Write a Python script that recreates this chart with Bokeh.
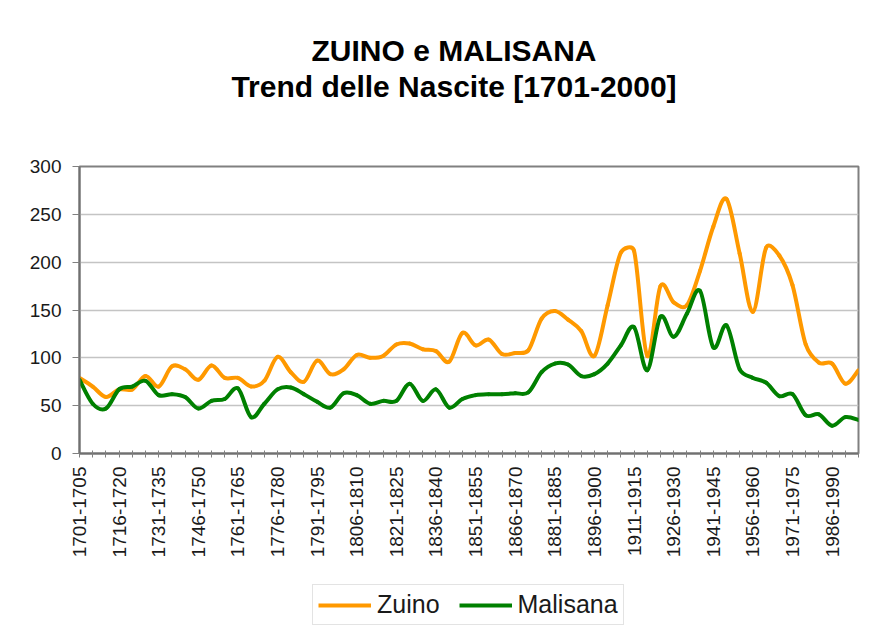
import math
from bokeh.plotting import figure
from bokeh.layouts import column
from bokeh.models import (Range1d, FixedTicker, Label, Legend, LegendItem, ColumnDataSource)
from bokeh.embed import file_html
from bokeh.resources import INLINE

# ---------------- data ----------------
categories = [
    "1701-1705", "1706-1710", "1711-1715", "1716-1720", "1721-1725", "1726-1730",
    "1731-1735", "1736-1740", "1741-1745", "1746-1750", "1751-1755", "1756-1760",
    "1761-1765", "1766-1770", "1771-1775", "1776-1780", "1781-1785", "1786-1790",
    "1791-1795", "1796-1800", "1801-1805", "1806-1810", "1811-1815", "1816-1820",
    "1821-1825", "1826-1830", "1831-1835", "1836-1840", "1841-1845", "1846-1850",
    "1851-1855", "1856-1860", "1861-1865", "1866-1870", "1871-1875", "1876-1880",
    "1881-1885", "1886-1890", "1891-1895", "1896-1900", "1901-1905", "1906-1910",
    "1911-1915", "1916-1920", "1921-1925", "1926-1930", "1931-1935", "1936-1940",
    "1941-1945", "1946-1950", "1951-1955", "1956-1960", "1961-1965", "1966-1970",
    "1971-1975", "1976-1980", "1981-1985", "1986-1990", "1991-1995", "1996-2000",
]

zuino = [79, 70, 59, 67, 67, 81, 70, 91, 88, 77,
         92, 79, 79, 70, 76, 101, 85, 75, 97, 83,
         88, 103, 100, 102, 114, 115, 109, 107, 96, 126,
         113, 119, 104, 105, 108, 141, 149, 140, 128, 102,
         155, 210, 212, 102, 175, 158, 155, 191, 237, 266,
         209, 148, 215, 207, 176, 114, 95, 94, 73, 87]

malisana = [77, 52, 47, 67, 70, 76, 61, 62, 59, 47,
            55, 57, 68, 38, 52, 67, 69, 62, 54, 48,
            63, 61, 52, 55, 55, 73, 55, 67, 48, 57,
            61, 62, 62, 63, 64, 85, 94, 93, 81, 83,
            94, 113, 132, 87, 143, 122, 146, 170, 111, 134,
            88, 79, 74, 60, 62, 40, 41, 29, 38, 35]

y_ticks = [0, 50, 100, 150, 200, 250, 300]
label_every = 3

series_names = ["Zuino", "Malisana"]
series_colors = ["#FF9900", "#008000"]
title_lines = ["ZUINO e MALISANA", "Trend delle Nascite [1701-2000]"]

FONT = "Liberation Sans"
W = 872
H_TITLE, H_MAIN, H_LEG = 140, 435, 53
FRAME_L, FRAME_R, FRAME_T, FRAME_B = 79, 14, 26, 122
Y_MAX = 300


def smooth_segments(vals, sx, sy, cap=0.45):
    """Bezier segments through the data points (Catmull-Rom style smoothing,
    handles limited relative to the segment's chord in screen space)."""
    n = len(vals)
    xs = list(range(n))
    P = [(xs[i] * sx, vals[i] * sy) for i in range(n)]

    def handle(i, j):
        # tangent handle at point i pointing towards neighbour j
        a = P[max(i - 1, 0)]
        b = P[min(i + 1, n - 1)]
        hx, hy = (b[0] - a[0]) / 6.0, (b[1] - a[1]) / 6.0
        L = math.hypot(hx, hy)
        ch = math.hypot(P[j][0] - P[i][0], P[j][1] - P[i][1])
        lim = cap * ch
        if L > lim and L > 0:
            hx, hy = hx * lim / L, hy * lim / L
        return hx, hy

    d = dict(x0=[], y0=[], x1=[], y1=[], cx0=[], cy0=[], cx1=[], cy1=[])
    for i in range(n - 1):
        h0x, h0y = handle(i, i + 1)
        h1x, h1y = handle(i + 1, i)
        d["x0"].append(xs[i]); d["y0"].append(vals[i])
        d["x1"].append(xs[i + 1]); d["y1"].append(vals[i + 1])
        d["cx0"].append((P[i][0] + h0x) / sx)
        d["cy0"].append((P[i][1] + h0y) / sy)
        d["cx1"].append((P[i + 1][0] - h1x) / sx)
        d["cy1"].append((P[i + 1][1] - h1y) / sy)
    return ColumnDataSource(d)


def blank_figure(height):
    f = figure(width=W, height=height, output_backend="svg", toolbar_location=None,
               title_location=None, x_axis_type=None, y_axis_type=None,
               x_range=Range1d(0, 1), y_range=Range1d(0, 1), min_border=0)
    f.outline_line_color = None
    f.background_fill_color = "white"
    f.border_fill_color = "white"
    return f


# ---------------- title block ----------------
pt = blank_figure(H_TITLE)
for txt, baseline in zip(title_lines, [62, 98]):
    pt.add_layout(Label(x=453.5 - FRAME_L, y=H_TITLE - baseline + 12,
                        x_units="screen", y_units="screen",
                        text=txt, text_align="center", text_baseline="alphabetic",
                        text_font=FONT, text_font_size="30px", text_font_style="bold",
                        text_color="black"))

# ---------------- main chart ----------------
p = figure(width=W, height=H_MAIN, output_backend="svg", toolbar_location=None,
           title_location=None,
           x_range=Range1d(0, len(categories) - 1), y_range=Range1d(0, Y_MAX),
           min_border_left=FRAME_L, min_border_right=FRAME_R, min_border_top=FRAME_T,
           min_border_bottom=FRAME_B)

p.background_fill_color = "white"
p.border_fill_color = "white"
p.outline_line_color = "#808080"
p.outline_line_width = 2

xa = p.xaxis[0]
xa.ticker = FixedTicker(ticks=list(range(len(categories))))
xa.major_label_overrides = {i: (categories[i] if i % label_every == 0 else "")
                            for i in range(len(categories))}
xa.major_label_orientation = math.pi / 2
xa.major_label_text_font = FONT
xa.major_label_text_font_size = "19px"
xa.major_label_text_color = "#1a1a1a"
xa.major_label_standoff = 9
xa.major_tick_in = 3
xa.major_tick_out = 4
xa.major_tick_line_color = "#808080"
xa.minor_tick_line_color = None
xa.axis_line_color = "#707070"
xa.axis_line_width = 2

ya = p.yaxis[0]
ya.ticker = FixedTicker(ticks=y_ticks)
ya.major_label_text_font = FONT
ya.major_label_text_font_size = "19px"
ya.major_label_text_color = "#1a1a1a"
ya.major_label_standoff = 11
ya.major_tick_in = 0
ya.major_tick_out = 7
ya.major_tick_line_color = "#808080"
ya.minor_tick_line_color = None
ya.axis_line_color = "#707070"
ya.axis_line_width = 2

p.xgrid.grid_line_color = None
p.ygrid.ticker = FixedTicker(ticks=y_ticks)
p.ygrid.grid_line_color = "#c4c4c4"
p.ygrid.grid_line_width = 1.5

# pixel scale of the frame (for screen-space smoothing)
frame_w = W - FRAME_L - FRAME_R
frame_h = H_MAIN - FRAME_T - FRAME_B
px_x = frame_w / (len(categories) - 1)
px_y = frame_h / Y_MAX

for vals, color in zip([zuino, malisana], series_colors):
    p.bezier(x0="x0", y0="y0", x1="x1", y1="y1", cx0="cx0", cy0="cy0",
             cx1="cx1", cy1="cy1", source=smooth_segments(vals, px_x, px_y),
             line_color=color, line_width=4, line_cap="round")

# ---------------- legend block ----------------
pl = blank_figure(H_LEG)
# legend carriers: the series drawn in this strip fall outside its (0..1) range
proxies = [pl.line(x=list(range(len(vals))), y=vals, line_color=c, line_width=4)
           for vals, c in zip([zuino, malisana], series_colors)]
legend = Legend(items=[LegendItem(label=n, renderers=[r])
                       for n, r in zip(series_names, proxies)],
                location=(312 - FRAME_L, 3), orientation="horizontal",
                label_text_font=FONT, label_text_font_size="25px",
                label_text_color="#1a1a1a",
                glyph_width=53, glyph_height=20, label_standoff=6, spacing=19,
                padding=5, margin=0, border_line_color="#c8c8c8",
                border_line_width=1, background_fill_color="white")
pl.add_layout(legend, "center")

layout = column(pt, p, pl, spacing=0)
open("out.html", "w").write(file_html(layout, INLINE))
